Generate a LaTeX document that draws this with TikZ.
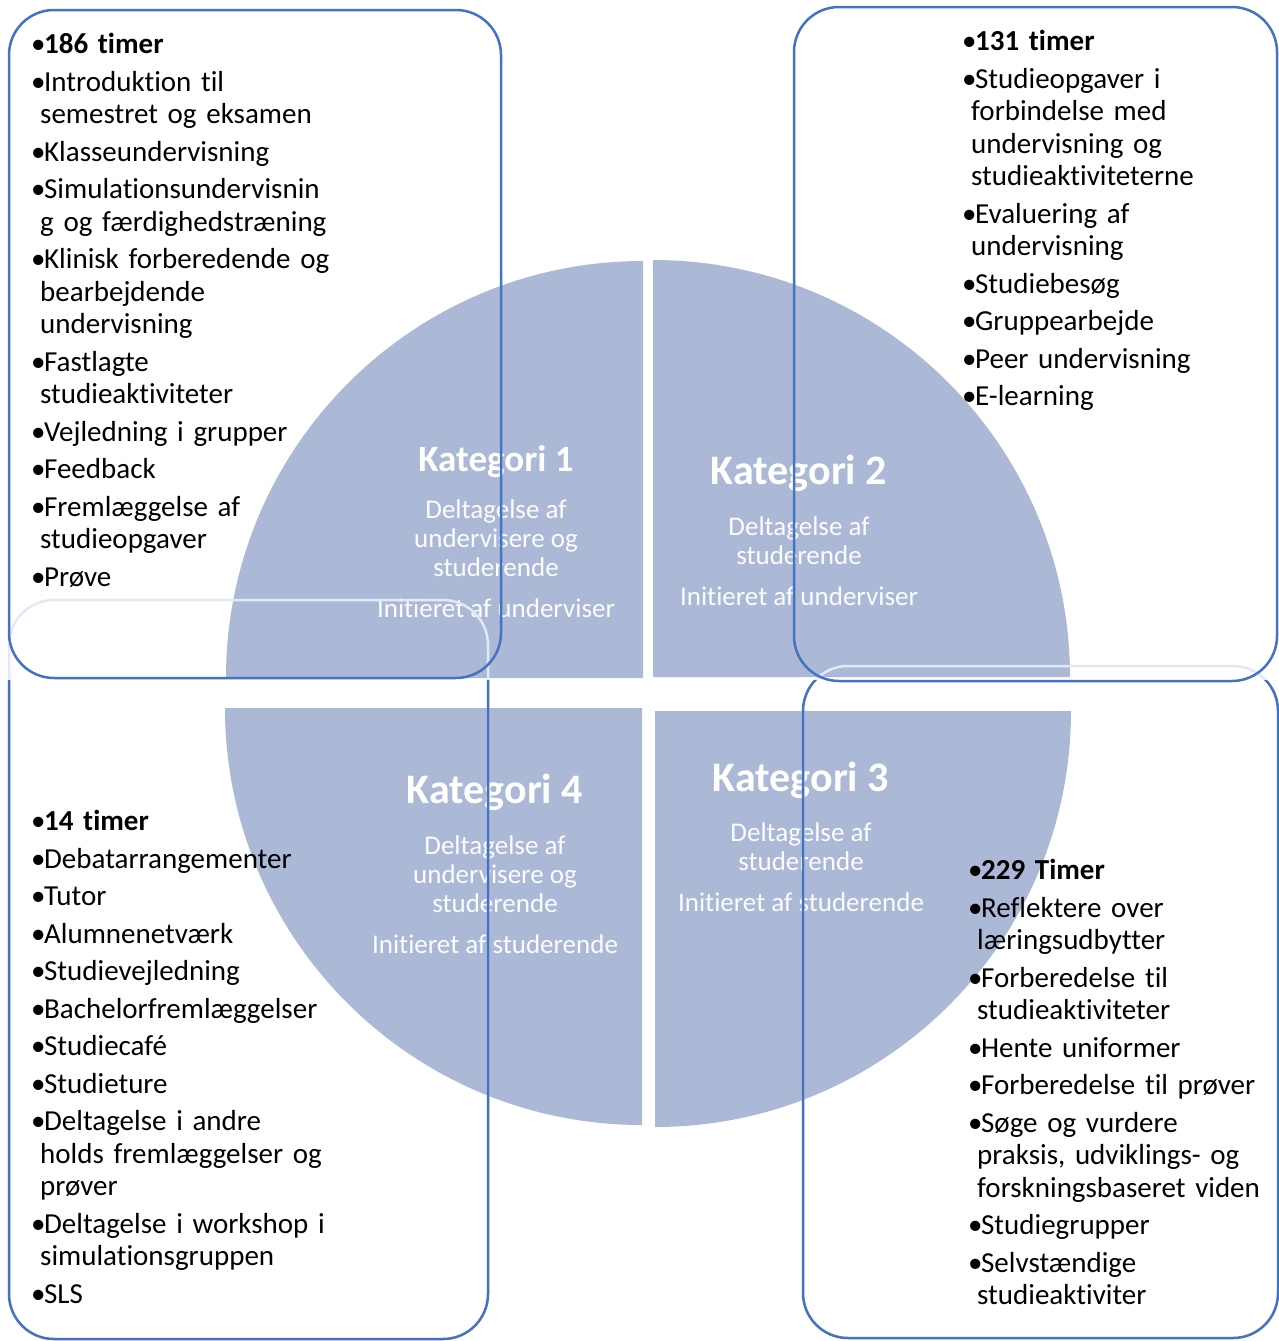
\documentclass[tikz,border=0pt]{standalone}
\usepackage{fontspec}
\setmainfont{Carlito}[Ligatures={TeX,NoCommon}]
\usepackage{xcolor}
\definecolor{boxblue}{RGB}{68,114,196}
\definecolor{boxfaint}{RGB}{226,233,246}
\definecolor{quadfill}{RGB}{171,185,214}
\newcommand{\itm}[1]{\parskip=5pt\noindent\hangindent=9pt\hangafter=1\strut•\kern-1.5pt#1\par}
\tikzset{
    BX1/.style ={rounded corners=45pt, line width=2.5pt, draw=boxblue},
    BX2/.style ={rounded corners=45pt, line width=2.5pt, draw=boxfaint},
    QD/.style ={fill=quadfill},
    LST/.style ={anchor=north west, inner sep=0pt, text width=340pt, align=left, font=\fontsize{29}{32.5}\selectfont},
    KT1/.style ={anchor=base, text=white, inner sep=0pt, font=\bfseries\fontsize{37}{44}\selectfont},
    KT2/.style ={anchor=base, text=white, inner sep=0pt, font=\bfseries\fontsize{42}{50}\selectfont},
    KB/.style ={anchor=north, inner sep=0pt, text=white!96!quadfill, align=center, font=\fontsize{27}{29}\selectfont}
}
\begin{document}
\begin{tikzpicture}
        [x=1pt,y=-1pt]
        \useasboundingbox (0,0) rectangle (1279,1341);
        \coordinate (q1) at (643,678);
        \coordinate (q2) at (653,677);
        \coordinate (q3) at (655,711);
        \coordinate (q4) at (642,708);
        \fill[QD] (q1) -- (226,678) arc[start angle=180, end angle=270, radius=417] -- cycle;
        \fill[QD] (q2) -- (653,260) arc[start angle=270, end angle=360, radius=417] -- cycle;
        \fill[QD] (q3) -- (1071,711) arc[start angle=0, end angle=90, radius=416] -- cycle;
        \fill[QD] (q4) -- (642,1125) arc[start angle=90, end angle=180, radius=417] -- cycle;
        \node[KT1] (k1) at (496,471) {Kategori 1};
        \node[KB] (b1) at (496,500) {Deltagelse af\\undervisere og\\studerende\\[12pt]Initieret af underviser};
        \node[KT2] (k2) at (799,484) {Kategori 2};
        \node[KB] (b2) at (799,517) {Deltagelse af\\studerende\\[12pt]Initieret af underviser};
        \node[KT2] (k3) at (801,791) {Kategori 3};
        \node[KB] (b3) at (801,823) {Deltagelse af\\studerende\\[12pt]Initieret af studerende};
        \node[KT2] (k4) at (495,803) {Kategori 4};
        \node[KB] (b4) at (495,836) {Deltagelse af\\undervisere og\\studerende\\[12pt]Initieret af studerende};
        \draw[BX2] (9,600) rectangle (488,1339);
        \draw[BX2] (803,666) rectangle (1278,1338);
        \begin{scope}
            \clip (0,680) rectangle (1279,1341);
            \draw[BX1] (9,600) rectangle (488,1339);
            \draw[BX1] (803,666) rectangle (1278,1338);
        \end{scope}
        \draw[BX1] (9,10) rectangle (501,678);
        \draw[BX1] (794,7) rectangle (1277,681);
        \node[LST] (l1) at (31,31) {\itm{\textbf{186 timer}}
            \itm{Introduktion til\newline semestret og eksamen}
            \itm{Klasseundervisning}
            \itm{Simulationsundervisnin\newline g og færdighedstræning}
            \itm{Klinisk forberedende og\newline bearbejdende\newline undervisning}
            \itm{Fastlagte\newline studieaktiviteter}
            \itm{Vejledning i grupper}
            \itm{Feedback}
            \itm{Fremlæggelse af\newline studieopgaver}
            \itm{Prøve}};
        \node[LST] (l2) at (962,28) {\itm{\textbf{131 timer}}
            \itm{Studieopgaver i\newline forbindelse med\newline undervisning og\newline studieaktiviteterne}
            \itm{Evaluering af\newline undervisning}
            \itm{Studiebesøg}
            \itm{Gruppearbejde}
            \itm{Peer undervisning}
            \itm{E-learning}};
        \node[LST] (l3) at (968,857) {\itm{\textbf{229 Timer}}
            \itm{Reflektere over\newline læringsudbytter}
            \itm{Forberedelse til\newline studieaktiviteter}
            \itm{Hente uniformer}
            \itm{Forberedelse til prøver}
            \itm{Søge og vurdere\newline praksis, udviklings- og\newline forskningsbaseret viden}
            \itm{Studiegrupper}
            \itm{Selvstændige\newline studieaktiviter}};
        \node[LST] (l4) at (31,808) {\itm{\textbf{14 timer}}
            \itm{Debatarrangementer}
            \itm{Tutor}
            \itm{Alumnenetværk}
            \itm{Studievejledning}
            \itm{Bachelorfremlæggelser}
            \itm{Studiecafé}
            \itm{Studieture}
            \itm{Deltagelse i andre\newline holds fremlæggelser og\newline prøver}
            \itm{Deltagelse i workshop i\newline simulationsgruppen}
            \itm{SLS}};
\end{tikzpicture}
\end{document}
